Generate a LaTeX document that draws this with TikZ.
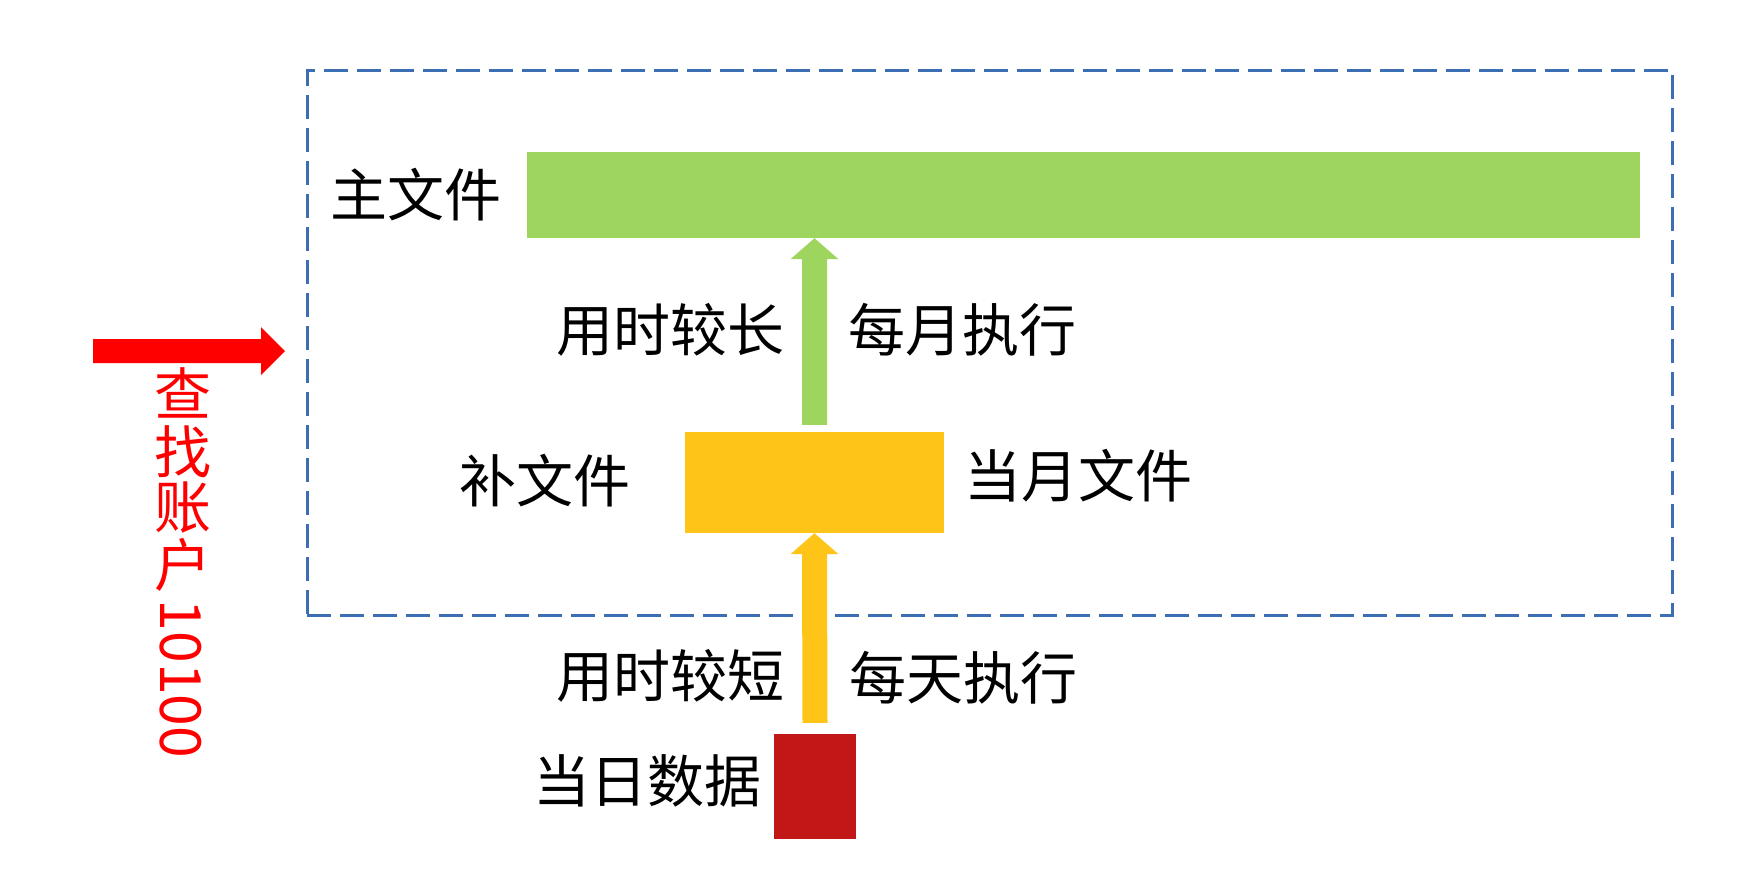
\documentclass[tikz,border=0pt]{standalone}
\usepackage{fontspec}
\setmainfont{Noto Sans CJK SC}
\usetikzlibrary{calc}
\definecolor{gcol}{RGB}{157,213,95}
\definecolor{ycol}{RGB}{254,197,24}
\definecolor{rcol}{RGB}{193,23,23}
\definecolor{frameblue}{RGB}{60,110,180}
\definecolor{redarrow}{RGB}{255,0,0}
\newcommand{\blockup}[3]{%
  \fill[fill=#1] ($(#2)+(-12.5,0)$) -- ($(#3)+(-12.5,21)$) -- ($(#3)+(-24,21)$) -- (#3)
    -- ($(#3)+(24,21)$) -- ($(#3)+(12.5,21)$) -- ($(#2)+(12.5,0)$) -- cycle;}
\begin{document}
\begin{tikzpicture}[x=1pt,y=-1pt,
  lbl/.style={inner sep=0pt,font=\fontsize{57}{57}\selectfont,text=black},
  rlbl/.style={lbl,text=redarrow},
  block/.style={inner sep=0pt,draw=none},
  framebox/.style={draw=frameblue,line width=3pt,dash pattern=on 24pt off 9pt,inner sep=0pt}]
\fill[white] (0,0) rectangle (1738,887);
\useasboundingbox (0,0) rectangle (1738,887);
% dashed frame
\node[framebox,minimum width=1365pt,minimum height=545pt] (frame) at (989.5,342.5) {};
% blocks
\node[block,fill=gcol,minimum width=1113pt,minimum height=86pt] (main) at (1083.5,195) {};
\node[block,fill=ycol,minimum width=259pt,minimum height=101pt] (sub) at (814.5,482.5) {};
\node[block,fill=rcol,minimum width=82pt,minimum height=105pt] (day) at (815,786.5) {};
% arrows
\coordinate (gbot) at ($(sub.north)+(0,-7)$);
\coordinate (gtip) at (sub.north |- main.south);
\blockup{gcol}{gbot}{gtip}
\coordinate (ybot) at ($(day.north)+(0,-11)$);
\coordinate (ytip) at (sub.south);
\blockup{ycol}{ybot}{ytip}
% red arrow
\coordinate (rtail) at (93,351);
\coordinate (rtip) at (285,351);
\fill[fill=redarrow] ($(rtail)+(0,-12)$) -- ($(rtip)+(-24,-12)$) -- ($(rtip)+(-24,-24)$) -- (rtip)
  -- ($(rtip)+(-24,24)$) -- ($(rtip)+(-24,12)$) -- ($(rtail)+(0,12)$) -- cycle;
% labels
\node[lbl] (t1) at (416,195) {主文件};
\node[lbl] (t2) at (670,330) {用时较长};
\node[lbl] (t3) at (962,330) {每月执行};
\node[lbl] (t4) at (545,481) {补文件};
\node[lbl] (t5) at (1078,476) {当月文件};
\node[lbl] (t6) at (670,676) {用时较短};
\node[lbl] (t7) at (963,678) {每天执行};
\node[lbl] (t8) at (647,781) {当日数据};
% vertical red text
\node[rlbl] (q1) at (183,393) {查};
\node[rlbl] (q2) at (183,452) {找};
\node[rlbl] (q3) at (183,508) {账};
\node[rlbl] (q4) at (183,565) {户};
\node[rlbl,rotate=-90] (q5) at (181,679) {10100};
\end{tikzpicture}
\end{document}
